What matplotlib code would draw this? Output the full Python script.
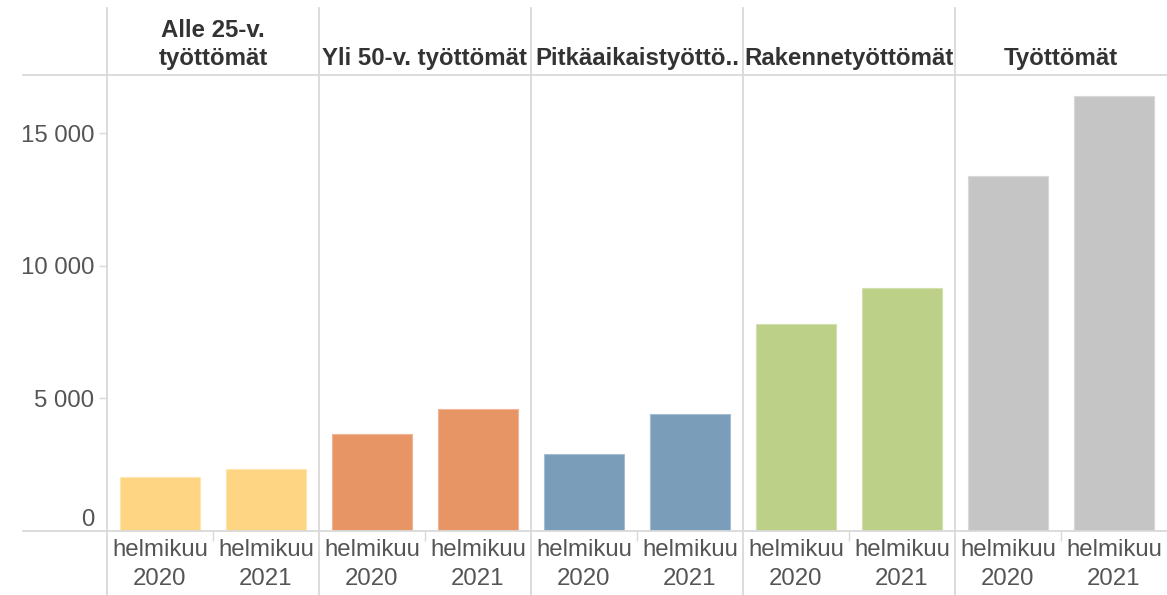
import matplotlib
matplotlib.use("Agg")
import matplotlib.pyplot as plt
import matplotlib.transforms as mtransforms
from matplotlib.ticker import FuncFormatter

plt.rcParams['font.family'] = ['Liberation Sans', 'DejaVu Sans']

# ---- data ----
groups = ["Alle 25-v.\ntyöttömät", "Yli 50-v. työttömät", "Pitkäaikaistyöttö..",
          "Rakennetyöttömät", "Työttömät"]
periods = ["helmikuu\n2020", "helmikuu\n2021"]
values_2020 = [2020, 3650, 2890, 7800, 13380]
values_2021 = [2320, 4590, 4410, 9160, 16395]
colors = ["#FDD583", "#E89566", "#7A9DB9", "#BCD087", "#C5C5C5"]
edge_colors = ["#FEE6B0", "#F0B595", "#A4BDD1", "#D3E0AE", "#D8D8D8"]
yticks = [0, 5000, 10000, 15000]

W, H = 1167, 595
fig = plt.figure(figsize=(W / 100, H / 100), dpi=100)
ax = fig.add_axes([107 / W, 1 - 531 / H, 1 - 107 / W, (531 - 75) / H])

n = len(groups)
xs, heights, cols, ecols, labels = [], [], [], [], []
for i in range(n):
    for j, v in enumerate([values_2020[i], values_2021[i]]):
        xs.append(2 * i + j + 0.5)
        heights.append(v)
        cols.append(colors[i])
        ecols.append(edge_colors[i])
        labels.append(periods[j])

ax.bar(xs, heights, width=0.75, color=cols, edgecolor=ecols, linewidth=0.8, zorder=3)

ax.set_xlim(0, 2 * n)
ax.set_ylim(0, 17190)

for s in ax.spines.values():
    s.set_visible(False)

txt_col = "#555555"
ax.set_yticks(yticks)
ax.yaxis.set_major_formatter(FuncFormatter(lambda v, p: f"{int(v):,}".replace(",", " ")))
ax.tick_params(axis='y', length=6, width=1, color="#D9D9D9", labelsize=17.3,
               labelcolor=txt_col, pad=3)
yt = ax.yaxis.get_major_ticks()
yt[0].label1.set_va('bottom')
yt[0].tick1line.set_visible(False)

ax.set_xticks(xs)
ax.set_xticklabels(labels, fontsize=17.3, color=txt_col, linespacing=1.4)
ax.tick_params(axis='x', length=0, pad=6)
ax.set_xticks([2 * i + 1 for i in range(n)], minor=True)
ax.tick_params(axis='x', which='minor', length=7, width=1, color="#D9D9D9")

line_col = "#D9D9D9"
# horizontal lines (header bottom and baseline)
for yy in [75, 531]:
    fig.add_artist(plt.Line2D([23 / W, 1], [1 - yy / H, 1 - yy / H], color=line_col,
                              lw=1.3, transform=fig.transFigure))

# vertical dividers
blend = mtransforms.blended_transform_factory(ax.transData, fig.transFigure)
for i in range(n):
    ax.plot([2 * i, 2 * i], [0, 1 - 8 / H], color=line_col, lw=1.3,
            transform=blend, clip_on=False, zorder=1)

# headers
for i, g in enumerate(groups):
    ax.text(2 * i + 1, 1 - 70 / H, g, transform=blend, ha='center', va='bottom',
            fontsize=17.3, fontweight='bold', color="#333333", linespacing=1.3)

fig.savefig("out.png", dpi=100)
